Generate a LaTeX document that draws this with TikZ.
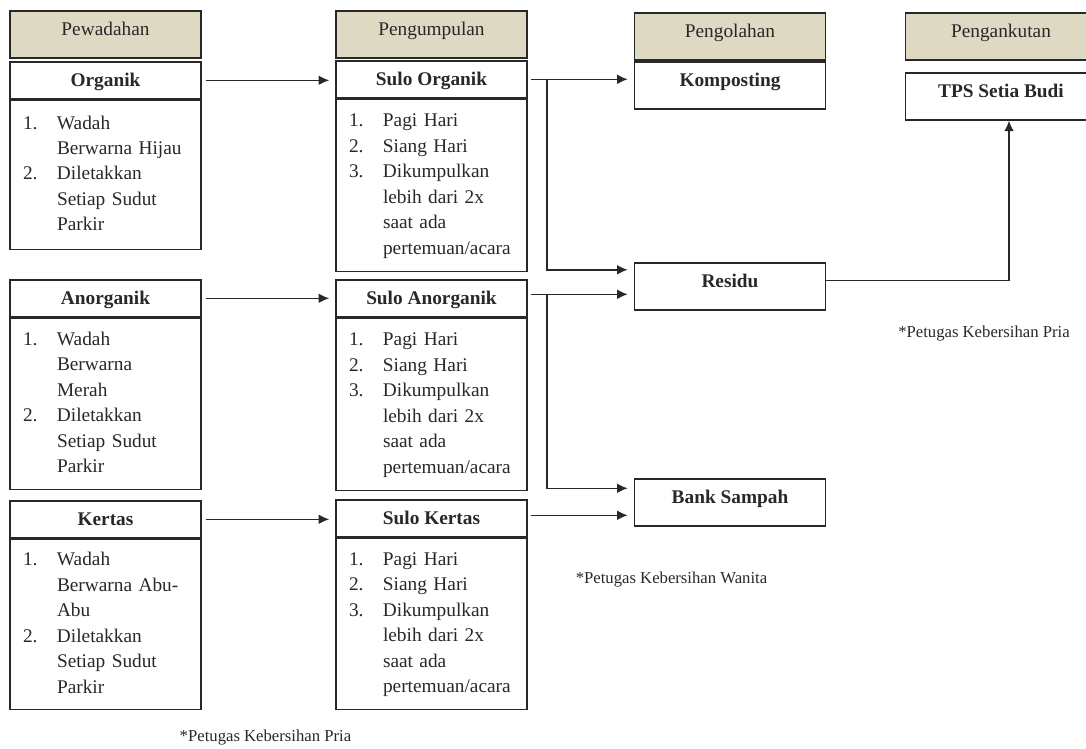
\documentclass[tikz,border=0pt]{standalone}
\usepackage{fontspec}
\setmainfont{Liberation Serif}
\usepackage{tikz}
\usetikzlibrary{arrows.meta,calc}

\definecolor{tan}{RGB}{221,217,195}
\definecolor{ink}{RGB}{40,40,40}

\newcommand{\daftar}[1]{\begin{tabular}{@{}p{0.68cm}@{}l@{}}#1\end{tabular}}
\newcommand{\jadwal}{\daftar{1. & Pagi Hari\\ 2. & Siang Hari\\ 3. & Dikumpulkan\\ & lebih dari 2x\\ & saat ada\\ & pertemuan/acara}}

\begin{document}
\begin{tikzpicture}[x=0.02cm,y=-0.02cm,
  every node/.style={font=\fontsize{11}{14.5}\selectfont, text=ink},
  head/.style={draw=ink, line width=0.9pt, fill=tan, minimum width=3.82cm, inner sep=0pt, text height=0.5cm, text depth=0.44cm, anchor=north},
  hasil/.style={head, fill=white, font=\fontsize{11}{14.5}\selectfont\bfseries},
  ttl/.style={draw=ink, line width=0.9pt, minimum width=3.82cm, inner sep=0pt, text height=0.5cm, text depth=0.24cm, anchor=north, font=\fontsize{11}{14.5}\selectfont\bfseries},
  body/.style={draw=ink, line width=0.9pt, text width=3.3cm, inner xsep=0.26cm, inner ysep=0pt, anchor=north, align=left},
  catatan/.style={font=\fontsize{9.5}{11}\selectfont},
  panah/.style={draw=ink, line width=0.9pt, -{Latex[length=6pt,width=5.5pt]}}]

\clip (0,0) rectangle (1086,748);

\node[head] (h1) at (105.5,10) {Pewadahan};
\node[head] (h2) at (431.5,10) {Pengumpulan};
\node[head] (h3) at (730,12) {Pengolahan};
\node[head] (h4) at (1001,12) {Pengankutan};

\node[ttl] (org) at (105.5,61) {Organik};
\node[body, minimum height=2.98cm] (orgL) at (org.south) {\daftar{1. & Wadah\\ & Berwarna Hijau\\ 2. & Diletakkan\\ & Setiap Sudut\\ & Parkir}};
\node[ttl] (anorg) at (105.5,279) {Anorganik};
\node[body, minimum height=3.42cm] (anorgL) at (anorg.south) {\daftar{1. & Wadah\\ & Berwarna\\ & Merah\\ 2. & Diletakkan\\ & Setiap Sudut\\ & Parkir}};
\node[ttl] (kert) at (105.5,500) {Kertas};
\node[body, minimum height=3.40cm] (kertL) at (kert.south) {\daftar{1. & Wadah\\ & Berwarna Abu-\\ & Abu\\ 2. & Diletakkan\\ & Setiap Sudut\\ & Parkir}};

\node[ttl] (sorg) at (431.5,60) {Sulo Organik};
\node[body, minimum height=3.44cm] (sorgL) at (sorg.south) {\jadwal};
\node[ttl] (sanorg) at (431.5,279) {Sulo Anorganik};
\node[body, minimum height=3.44cm] (sanorgL) at (sanorg.south) {\jadwal};
\node[ttl] (skert) at (431.5,499) {Sulo Kertas};
\node[body, minimum height=3.42cm] (skertL) at (skert.south) {\jadwal};

\node[hasil] (komp) at (730,61) {Komposting};
\node[hasil] (residu) at (730,262) {Residu};
\node[hasil] (bank) at (730,478) {Bank Sampah};
\node[hasil] (tps) at (1001,72) {TPS Setia Budi};

\node[catatan] (n1) at (984,334) {*Petugas Kebersihan Pria};
\node[catatan] (n2) at (671.5,579) {*Petugas Kebersihan Wanita};
\node[catatan] (n3) at (265.5,737) {*Petugas Kebersihan Pria};

\draw[panah, shorten <=0.08cm, shorten >=0.12cm] (org.east) -- (org.east -| sorg.west);
\draw[panah, shorten <=0.08cm, shorten >=0.12cm] (anorg.east) -- (anorg.east -| sanorg.west);
\draw[panah, shorten <=0.08cm, shorten >=0.12cm] (kert.east) -- (kert.east -| skert.west);

\coordinate (sa) at ([yshift=0.08cm]sanorg.east);
\coordinate (sk) at ([yshift=0.06cm]skert.east);
\coordinate (cab1) at ($(sorg.east)+(19,0)$);
\coordinate (cab2) at ($(sa)+(19,0)$);

\draw[panah, shorten <=0.06cm, shorten >=0.12cm] (sorg.east) -- (sorg.east -| komp.west);
\draw[panah, shorten >=0.12cm] (cab1) |- ([yshift=0.33cm]residu.west);
\draw[panah, shorten <=0.06cm, shorten >=0.12cm] (sa) -- (sa -| residu.west);
\draw[panah, shorten >=0.12cm] (cab2) |- ([yshift=0.28cm]bank.west);
\draw[panah, shorten <=0.06cm, shorten >=0.12cm] (sk) -- (sk -| bank.west);
\draw[panah] ([yshift=0.12cm]residu.east) -| ([xshift=0.16cm]tps.south);

\end{tikzpicture}
\end{document}
